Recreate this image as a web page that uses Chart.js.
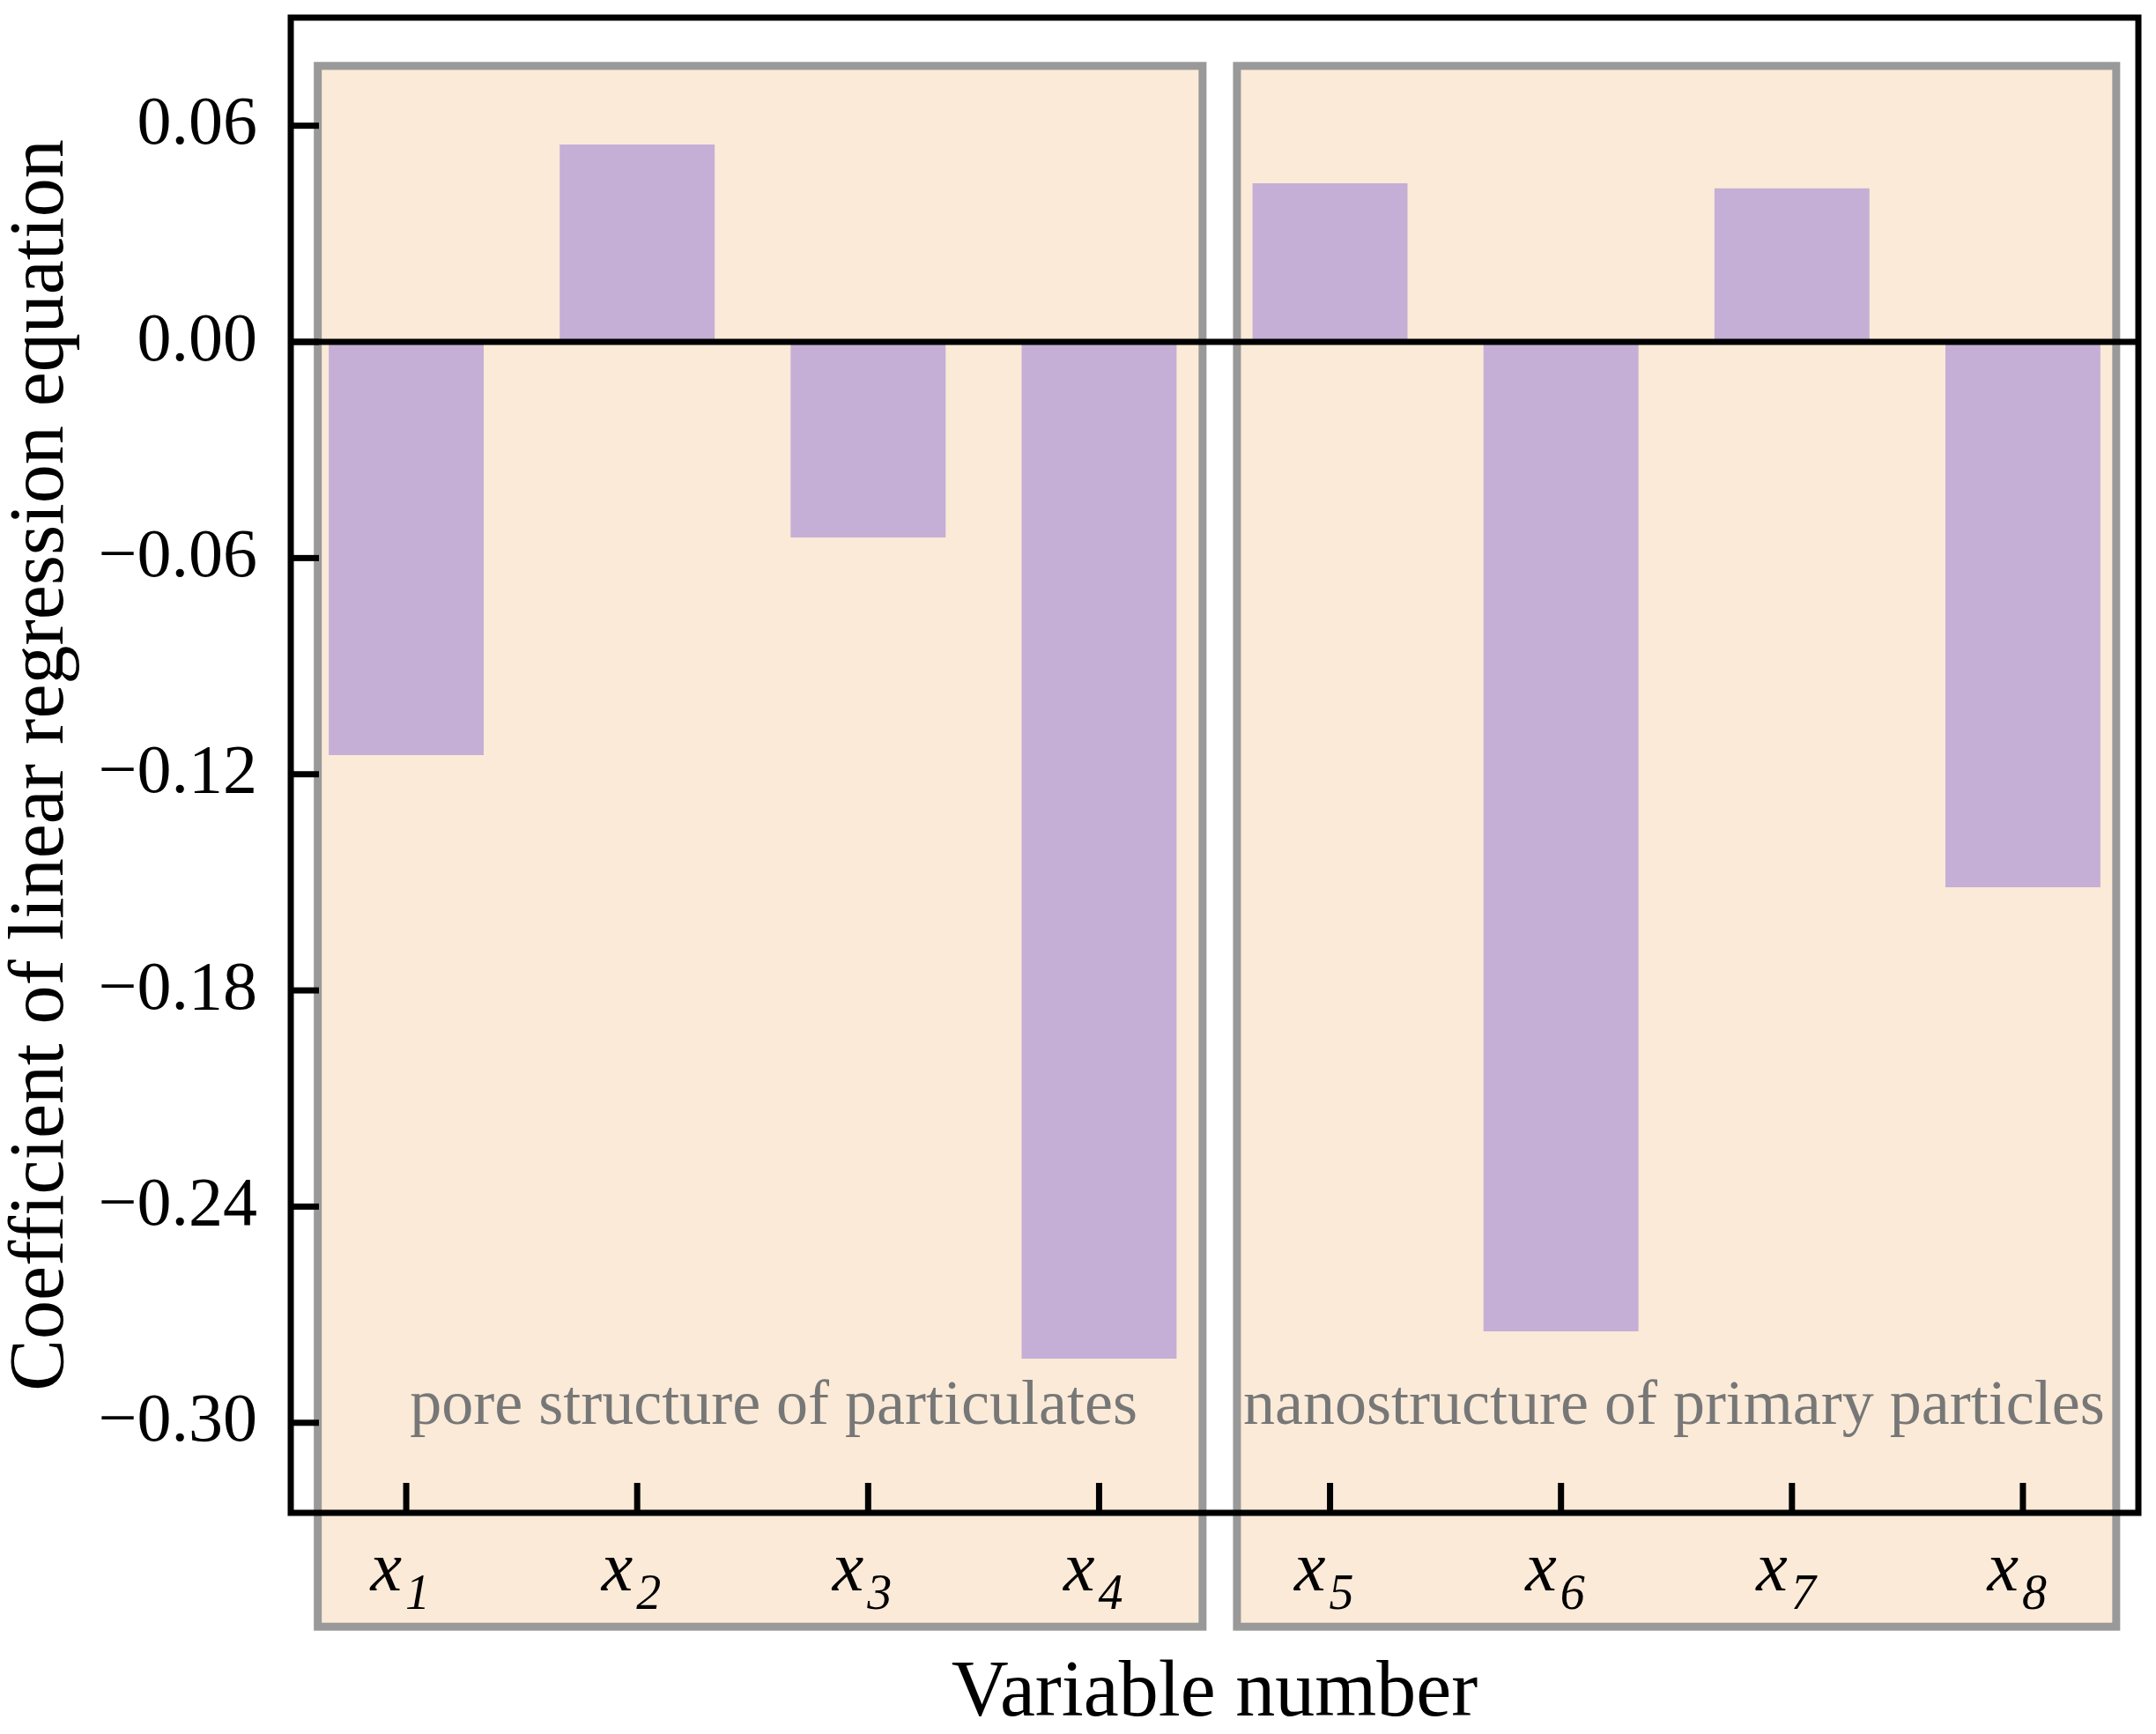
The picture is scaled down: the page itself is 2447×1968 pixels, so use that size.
<!DOCTYPE html>
<html><head><meta charset="utf-8">
<script src="https://cdn.jsdelivr.net/npm/chart.js@4.4.1/dist/chart.umd.min.js"></script>
<style>html,body{margin:0;padding:0;background:#fff;}canvas{display:block;}</style>
</head><body>
<canvas id="c" width="2447" height="1968"></canvas>
<script>
const categories = ['x1','x2','x3','x4','x5','x6','x7','x8'];
const coefficients = [-0.1147, 0.0548, -0.0543, -0.2822, 0.0440, -0.2746, 0.0426, -0.1514];
const yTickValues = [-0.30, -0.24, -0.18, -0.12, -0.06, 0.00, 0.06];
const groupNames = ['pore structure of particulates', 'nanostructure of primary particles'];

const FONT = "'Liberation Serif', 'Times New Roman', serif";
Chart.defaults.font.family = FONT;
Chart.defaults.color = '#000';

const decor = {
  id: 'decor',
  beforeDatasetsDraw(chart, args, o) {
    const {ctx, scales: {x, y}} = chart;
    ctx.save();
    const t = y.getPixelForValue(o.boxTop), b = y.getPixelForValue(o.boxBottom);
    for (const bx of o.boxes) {
      const l = x.getPixelForValue(bx.from), r = x.getPixelForValue(bx.to);
      ctx.fillStyle = o.fill;
      ctx.fillRect(l, t, r - l, b - t);
      ctx.lineWidth = o.boxLine;
      ctx.strokeStyle = o.boxStroke;
      ctx.strokeRect(l, t, r - l, b - t);
    }
    ctx.restore();
  },
  afterDatasetsDraw(chart, args, o) {
    const {ctx, chartArea: ca, scales: {x, y}} = chart;
    ctx.save();
    ctx.strokeStyle = '#000';
    ctx.lineWidth = o.axisLine;
    const y0 = y.getPixelForValue(0);
    ctx.beginPath(); ctx.moveTo(ca.left, y0); ctx.lineTo(ca.right, y0); ctx.stroke();
    for (const v of yTickValues) {
      const py = y.getPixelForValue(v);
      ctx.beginPath(); ctx.moveTo(ca.left, py); ctx.lineTo(ca.left + o.yTickLen, py); ctx.stroke();
    }
    categories.forEach((c, i) => {
      const px = x.getPixelForTick(i);
      ctx.beginPath(); ctx.moveTo(px, ca.bottom); ctx.lineTo(px, ca.bottom - o.xTickLen); ctx.stroke();
    });
    ctx.strokeRect(ca.left, ca.top, ca.right - ca.left, ca.bottom - ca.top);
    ctx.fillStyle = '#000';
    ctx.textBaseline = 'alphabetic';
    categories.forEach((c, i) => {
      const px = x.getPixelForTick(i);
      ctx.font = 'italic 80px ' + FONT;
      ctx.textAlign = 'right';
      ctx.fillText(c.charAt(0), px - 5, ca.bottom + o.labelOffset);
      ctx.font = 'italic 56px ' + FONT;
      ctx.textAlign = 'left';
      ctx.fillText(c.slice(1), px - 1, ca.bottom + o.labelOffset + o.subOffset);
    });
    ctx.fillStyle = o.noteColor;
    ctx.font = '72px ' + FONT;
    ctx.textAlign = 'center';
    o.notes.forEach((n, i) => {
      ctx.fillText(groupNames[i], x.getPixelForValue(n.at), y.getPixelForValue(o.noteBaseline));
    });
    ctx.restore();
  }
};

new Chart(document.getElementById('c'), {
  type: 'bar',
  data: {
    labels: categories,
    datasets: [{
      data: coefficients,
      backgroundColor: '#C5AFD6',
      borderWidth: 0,
      barPercentage: 0.671,
      categoryPercentage: 1
    }]
  },
  options: {
    responsive: false,
    devicePixelRatio: 1,
    animation: false,
    layout: {padding: {top: 20, right: 20, left: 0, bottom: 0}},
    plugins: {
      legend: {display: false},
      tooltip: {enabled: false},
      decor: {
        boxes: [{from: -0.383, to: 3.448}, {from: 3.597, to: 7.404}],
        boxTop: 0.0766, boxBottom: -0.3566,
        fill: '#FAEAD7', boxStroke: '#999999', boxLine: 9,
        axisLine: 7, yTickLen: 32, xTickLen: 34,
        labelOffset: 88, subOffset: 21,
        noteColor: '#777777', noteBaseline: -0.3002,
        notes: [{at: 1.591}, {at: 5.489}]
      }
    },
    scales: {
      x: {
        afterFit(s) { s.height = 251; s.paddingLeft = 0; s.paddingRight = 0; },
        grid: {display: false, drawTicks: false},
        border: {display: false},
        ticks: {display: false},
        title: {display: true, text: 'Variable number', font: {size: 90, lineHeight: 1}, color: '#000', padding: {top: 2, bottom: 0}}
      },
      y: {
        min: -0.325, max: 0.09,
        afterFit(s) { s.width = 330; s.paddingTop = 0; s.paddingBottom = 0; },
        afterBuildTicks(s) { s.ticks = yTickValues.map(v => ({value: v})); },
        grid: {display: false, drawTicks: false},
        border: {display: false},
        ticks: {
          padding: 38, color: '#000', font: {size: 78},
          callback: v => (v < -1e-9 ? '\u2212' : '') + Math.abs(v).toFixed(2)
        },
        title: {display: true, text: 'Coefficient of linear regression equation', font: {size: 88, lineHeight: 1}, color: '#000', padding: {top: 4, bottom: 0}}
      }
    }
  },
  plugins: [decor]
});
</script>
</body></html>
